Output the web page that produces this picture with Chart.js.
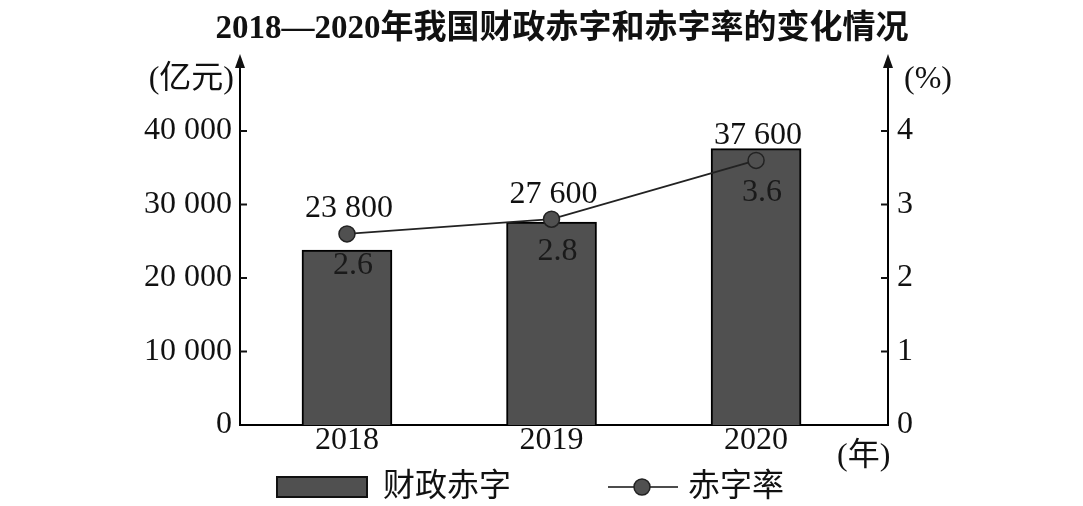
<!DOCTYPE html>
<html>
<head>
<meta charset="utf-8">
<script src="https://cdn.jsdelivr.net/npm/chart.js@4.4.0/dist/chart.umd.min.js"></script>
<style>
  html,body{margin:0;padding:0;background:#fff;}
  #wrap{width:1083px;height:506px;position:relative;}
</style>
</head>
<body>
<div id="wrap"><canvas id="chart"></canvas></div>
<script>
const years = [2018, 2019, 2020];
const deficit = [23800, 27600, 37600];      // 财政赤字 (亿元)
const deficitRate = [2.6, 2.8, 3.6];        // 赤字率 (%)
const leftTicks = [0, 10000, 20000, 30000, 40000];
const rightTicks = [0, 1, 2, 3, 4];

const SERIF = '"Liberation Serif", "Noto Sans CJK SC", serif';
const INK = '#111';
const BAR_FILL = '#505050';

const fmtNum = (v)=> String(v).replace(/\B(?=(\d{3})+(?!\d))/g, ' ');

// extra drawing: title, unit labels, arrows, inward ticks, legend, value labels
const extras = {
  id:'extras',
  afterDatasetsDraw(chart){
    const ctx = chart.ctx;
    const line = chart.getDatasetMeta(1);
    ctx.save();
    ctx.fillStyle = INK;
    ctx.textAlign = 'center';
    ctx.textBaseline = 'middle';
    ctx.font = '32px ' + SERIF;
    line.data.forEach((pt, i)=>{
      ctx.fillText(fmtNum(deficit[i]), pt.x + 2, pt.y - 25);
    });
    ctx.fillStyle = '#1a1a1a';
    line.data.forEach((pt, i)=>{
      ctx.fillText(String(deficitRate[i]), pt.x + 6, pt.y + 32);
    });
    ctx.restore();
  },
  afterDraw(chart){
    const ctx = chart.ctx;
    const {left, right, top, bottom} = chart.chartArea;
    ctx.save();
    ctx.strokeStyle = INK; ctx.fillStyle = INK; ctx.lineWidth = 2;

    // axis arrows
    [left, right].forEach(x=>{
      ctx.beginPath(); ctx.moveTo(x, top); ctx.lineTo(x, top - 6); ctx.stroke();
      ctx.beginPath(); ctx.moveTo(x, top - 16); ctx.lineTo(x - 5, top - 2); ctx.lineTo(x + 5, top - 2); ctx.closePath(); ctx.fill();
    });

    // inward tick marks
    const yl = chart.scales.y, yr = chart.scales.y1;
    leftTicks.slice(1).forEach(v=>{
      const y = yl.getPixelForValue(v);
      ctx.beginPath(); ctx.moveTo(left, y); ctx.lineTo(left + 7, y); ctx.stroke();
    });
    rightTicks.slice(1).forEach(v=>{
      const y = yr.getPixelForValue(v);
      ctx.beginPath(); ctx.moveTo(right, y); ctx.lineTo(right - 7, y); ctx.stroke();
    });

    // title
    ctx.textBaseline = 'middle';
    ctx.textAlign = 'center';
    ctx.font = 'bold 33px ' + SERIF;
    ctx.fillText('2018—2020年我国财政赤字和赤字率的变化情况', 562, 29);

    // unit labels
    ctx.font = '32px ' + SERIF;
    ctx.textAlign = 'right';
    ctx.fillText('(亿元)', 234, 80);
    ctx.textAlign = 'left';
    ctx.fillText('(%)', 904, 80);
    ctx.fillText('(年)', 837, 457);

    // legend
    ctx.fillStyle = BAR_FILL;
    ctx.fillRect(277, 477, 90, 20);
    ctx.strokeRect(277, 477, 90, 20);
    ctx.fillStyle = INK;
    ctx.font = '32px ' + SERIF;
    ctx.fillText('财政赤字', 383, 488);

    ctx.lineWidth = 1.5;
    ctx.beginPath(); ctx.moveTo(608, 487); ctx.lineTo(678, 487); ctx.stroke();
    ctx.beginPath(); ctx.arc(642, 487, 8, 0, Math.PI*2);
    ctx.fillStyle = '#505050'; ctx.fill(); ctx.strokeStyle = '#222'; ctx.stroke();
    ctx.fillStyle = INK;
    ctx.fillText('赤字率', 688, 488);
    ctx.restore();
  }
};

new Chart(document.getElementById('chart').getContext('2d'), {
  type:'bar',
  data:{
    datasets:[
      {
        type:'bar', label:'财政赤字', yAxisID:'y', order:2,
        data: years.map((yr,i)=>({x:yr, y:deficit[i]})),
        backgroundColor: BAR_FILL, borderColor:'#000', borderWidth:2,
        barThickness:90
      },
      {
        type:'line', label:'赤字率', yAxisID:'y1', order:1,
        data: years.map((yr,i)=>({x:yr, y:deficitRate[i]})),
        borderColor:'#222', borderWidth:1.8, tension:0,
        pointRadius:8, pointBackgroundColor:'#505050', pointBorderColor:'#222', pointBorderWidth:1.5
      }
    ]
  },
  options:{
    responsive:true, maintainAspectRatio:false, animation:false,
    layout:{ padding:{ top:70, left:0, right:0, bottom:0 } },
    plugins:{ legend:{ display:false }, title:{ display:false }, tooltip:{ enabled:false } },
    scales:{
      x:{
        type:'linear', offset:false, min:2017.477, max:2020.645,
        afterBuildTicks:(s)=>{ s.ticks = years.map(v=>({value:v})); },
        afterFit:(s)=>{ s.height = 81; },
        grid:{ display:false, drawTicks:false },
        border:{ display:true, color:'#000', width:2 },
        ticks:{ color:INK, padding:0, font:{ family:SERIF, size:32, lineHeight:1 }, callback:(v)=>String(v), maxRotation:0 }
      },
      y:{
        position:'left', min:0, max:48300,
        afterBuildTicks:(s)=>{ s.ticks = leftTicks.map(v=>({value:v})); },
        afterFit:(s)=>{ s.width = 240; },
        grid:{ display:false, drawTicks:false },
        border:{ display:true, color:'#000', width:2 },
        ticks:{ color:INK, padding:8, font:{ family:SERIF, size:32 }, callback:(v)=>fmtNum(v) }
      },
      y1:{
        position:'right', min:0, max:4.83,
        afterBuildTicks:(s)=>{ s.ticks = rightTicks.map(v=>({value:v})); },
        afterFit:(s)=>{ s.width = 195; },
        grid:{ display:false, drawTicks:false },
        border:{ display:true, color:'#000', width:2 },
        ticks:{ color:INK, padding:9, font:{ family:SERIF, size:32 }, callback:(v)=>String(v) }
      }
    }
  },
  plugins:[extras]
});
</script>
</body>
</html>
